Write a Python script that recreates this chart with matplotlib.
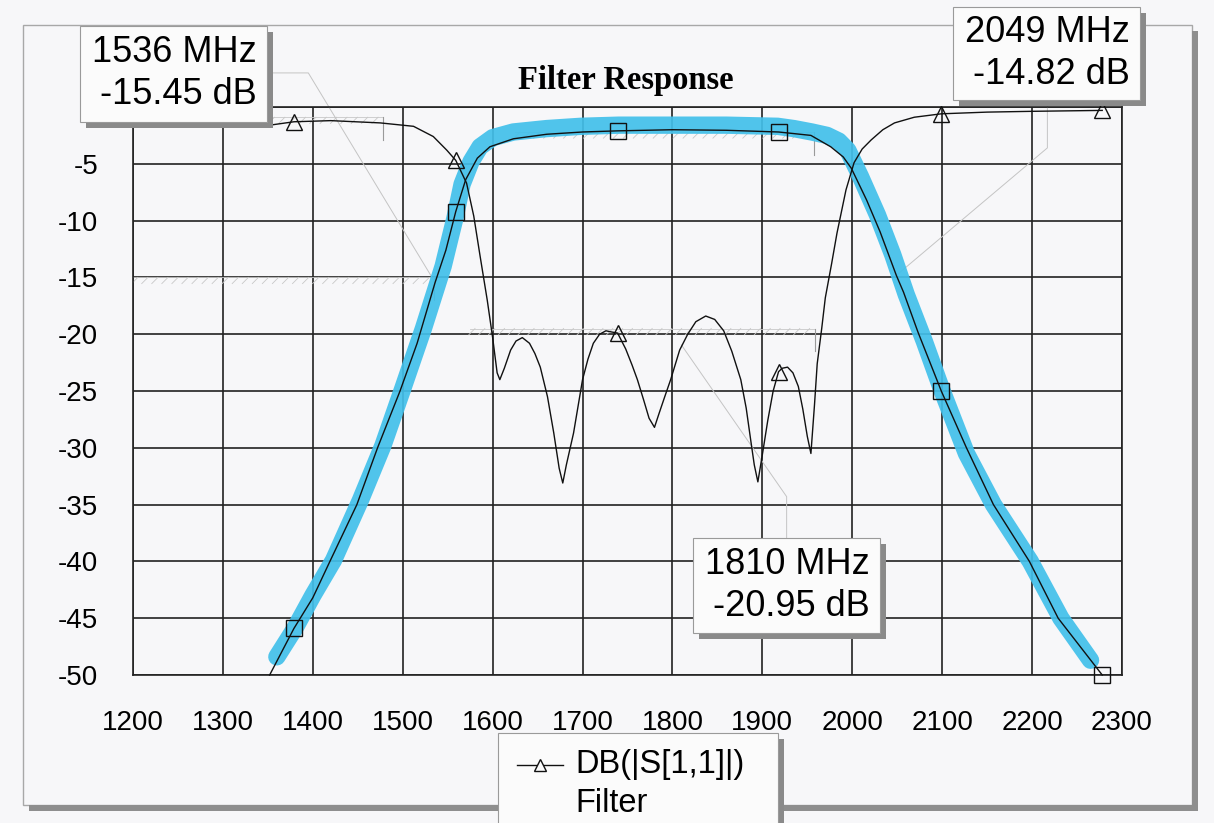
import numpy as np
import matplotlib
matplotlib.use("Agg")
import matplotlib.pyplot as plt
from matplotlib.patches import Rectangle
from matplotlib.lines import Line2D
import matplotlib.patheffects as pe

# ---------------- data ----------------
freq_ticks = [1200, 1300, 1400, 1500, 1600, 1700, 1800, 1900, 2000, 2100, 2200, 2300]
db_ticks = [0, -5, -10, -15, -20, -25, -30, -35, -40, -45, -50]

# S21 (thin black line with square markers)
s21_f = [1352, 1379, 1400, 1419, 1449, 1472, 1497, 1516, 1536, 1548, 1559, 1570, 1583,
         1597, 1623, 1660, 1700, 1739, 1800, 1860, 1918, 1954, 1976, 1990, 1999, 2016,
         2031, 2049, 2057, 2073, 2099, 2127, 2157, 2197, 2229, 2278]
s21_db = [-50, -45.9, -43.2, -40, -35, -30, -25, -20.8, -15.45, -12.6, -9.2, -6.4, -4.5,
          -3.5, -2.8, -2.4, -2.2, -2.1, -2.0, -2.05, -2.2, -2.5, -3.5, -4.4, -5.4, -8.2,
          -11, -14.82, -16.3, -19.8, -25, -30, -35, -40, -45, -50]

# S11 = DB(|S[1,1]|) (thin black line with triangle markers)
s11_f = [1352, 1379, 1420, 1475, 1512, 1534, 1549, 1559, 1571, 1579, 1586, 1594, 1600,
         1605, 1608, 1613, 1620, 1626, 1633, 1641, 1647, 1653, 1661, 1668, 1674, 1678,
         1682, 1690, 1700, 1706, 1712, 1719, 1726, 1732, 1739, 1748, 1755, 1761, 1768,
         1774, 1780, 1785, 1791, 1798, 1808, 1817, 1826, 1837, 1847, 1857, 1866, 1876,
         1882, 1887, 1891, 1895, 1900, 1906, 1912, 1918, 1922, 1928, 1934, 1940, 1945,
         1950, 1954, 1958, 1961, 1966, 1970, 1977, 1983, 1993, 2002, 2011, 2021, 2034,
         2047, 2069, 2099, 2150, 2200, 2278]
s11_db = [-1.6, -1.3, -1.2, -1.4, -1.7, -2.6, -3.8, -4.7, -6.7, -9.6, -13.1, -17, -20.3,
          -23.4, -24.0, -23.0, -21.4, -20.6, -20.3, -20.8, -21.7, -22.9, -25.5, -28.7,
          -31.8, -33.1, -31.5, -28.7, -24.0, -22.2, -20.8, -20.0, -19.7, -19.8, -19.9,
          -21.3, -22.7, -24.0, -25.8, -27.4, -28.2, -27.0, -25.6, -24.0, -21.4, -20.0,
          -18.9, -18.4, -18.7, -19.7, -21.5, -24.0, -26.5, -29.3, -31.5, -33.0, -30.6,
          -27.6, -25.0, -23.3, -23.0, -22.9, -23.4, -24.6, -26.6, -29.0, -30.5, -26.2,
          -22.6, -19.5, -16.8, -13.8, -11.1, -7.3, -4.9, -3.7, -2.9, -2.0, -1.4, -0.9,
          -0.6, -0.45, -0.38, -0.3]

marker_f = [1379, 1559, 1739, 1918, 2099, 2278]

# hand-drawn highlighter stroke over S21
hl_f = [1360, 1380, 1400, 1423, 1453, 1478, 1500, 1523, 1545, 1558, 1566, 1576, 1586,
        1600, 1623, 1660, 1698, 1740, 1797, 1860, 1917, 1935, 1955, 1972, 1985, 1995,
        2009, 2028, 2045, 2060, 2080, 2100, 2127, 2157, 2198, 2232, 2265]
hl_db = [-48.4, -45.9, -43, -39.9, -34.6, -29.8, -24.8, -19.5, -14.0, -9.8, -6.8, -4.8,
         -3.5, -2.7, -2.2, -1.9, -1.7, -1.6, -1.6, -1.6, -1.7, -1.9, -2.2, -2.5, -3.0,
         -3.8, -6.1, -9.5, -13.0, -16.5, -20.6, -25, -30.5, -35, -40, -45, -48.7]

# optimisation goals (faint hatched lines) : (f_start, f_end, level)
goals = [(1352, 1478, -0.9), (1200, 1535, -15.0), (1575, 1958, -19.5), (1625, 1957, -2.2)]

# marker read-outs: (freq, dB)
readouts = [(1536, -15.45), (2049, -14.82), (1810, -20.95)]
legend_label = "DB(|S[1,1]|)"
legend_label2 = "Filter"
title = "Filter Response"

# ---------------- figure ----------------
W, H = 1214, 823
fig = plt.figure(figsize=(W / 100, H / 100), dpi=100)
bg = "#f7f7f9"
fig.patch.set_facecolor(bg)
SANS = ["Liberation Sans", "DejaVu Sans"]


def prect(x0, y0, x1, y1, **kw):
    return Rectangle((x0 / W, 1 - y1 / H), (x1 - x0) / W, (y1 - y0) / H,
                     transform=fig.transFigure, **kw)


def fpt(x, y):
    return x / W, 1 - y / H


ax = fig.add_axes([133 / W, 1 - 675 / H, (1122 - 133) / W, (675 - 107) / H])
ax.set_facecolor(bg)
ax.set_xlim(1200, 2300)
ax.set_ylim(-50, 0)
ax.set_xticks(freq_ticks)
ax.set_xticklabels([str(v) for v in freq_ticks])
ax.set_yticks(db_ticks)
ax.set_yticklabels([str(v) for v in db_ticks])
ax.tick_params(length=0, labelsize=20, pad=25)
for lab in ax.get_xticklabels() + ax.get_yticklabels():
    lab.set_family(SANS)
ax.grid(True, color="#222222", lw=1.2, zorder=1)
ax.set_axisbelow(True)
for s in ax.spines.values():
    s.set_color("#222222")
    s.set_linewidth(1.2)

# faint goal lines with hatch ticks
for f0, f1, lvl in goals:
    ax.plot([f0, f1], [lvl, lvl], color="#c8c8c8", lw=0.6, zorder=1.5,
            path_effects=[pe.withTickedStroke(angle=-135, spacing=7, length=0.9)])
    ax.plot([f1, f1], [lvl, lvl - 2], color="#9a9a9a", lw=0.8, zorder=1.5)

# highlighter
ax.plot(hl_f, hl_db, color="#42c0ea", lw=12.5, solid_capstyle="round",
        solid_joinstyle="round", alpha=0.92, zorder=2)

# curves
idx21 = [s21_f.index(f) for f in marker_f]
idx11 = [s11_f.index(f) for f in marker_f]
ax.plot(s21_f, s21_db, color="#111111", lw=1.0, marker="s", markersize=12,
        mfc="none", mec="#111111", mew=1.0, markevery=idx21, zorder=3, clip_on=False)
ax.plot(s11_f, s11_db, color="#111111", lw=1.0, marker="^", markersize=12,
        mfc="none", mec="#111111", mew=1.0, markevery=idx11, zorder=3, clip_on=False)

# marker leader lines (faint)
leaders = [([1536, 1395, 1350], [-15.45, 3.0, 3.0]),
           ([2049, 2217, 2217], [-14.82, -3.6, 0.5]),
           ([1810, 1927, 1927], [-20.95, -34.3, -38.0])]
for lx, ly in leaders:
    ax.plot(lx, ly, color="#c4c4c4", lw=0.7, zorder=1.6, clip_on=False)

# ---------------- outer frame ----------------
fig.add_artist(prect(23, 25, 1192, 805, fill=False, edgecolor="#a8a8a8", lw=1.0, zorder=0.5))
fig.add_artist(prect(1192, 31, 1198, 811, facecolor="#8e8e8e", edgecolor="none", zorder=0.5))
fig.add_artist(prect(29, 805, 1198, 811, facecolor="#8e8e8e", edgecolor="none", zorder=0.5))

# ---------------- title ----------------
fig.text(*fpt(626, 80), title, family=["Liberation Serif", "DejaVu Serif"],
         weight="bold", fontsize=23.5, ha="center", va="center", zorder=6)

# ---------------- read-out boxes ----------------
boxes = [(80, 26, 267, 122), (953, 7, 1140, 100), (693, 538, 880, 633)]
for (x0, y0, x1, y1), (f, v) in zip(boxes, readouts):
    fig.add_artist(prect(x0 + 6, y0 + 6, x1 + 6, y1 + 6, facecolor="#8a8a8a",
                         edgecolor="none", zorder=9))
    fig.add_artist(prect(x0, y0, x1, y1, facecolor="#fbfbfb", edgecolor="#9a9a9a",
                         lw=0.8, zorder=10))
    cy = (y0 + y1) / 2
    fig.text(*fpt(x1 - 10, cy - 21), f"{f} MHz", family=SANS, fontsize=26,
             ha="right", va="center", zorder=11)
    fig.text(*fpt(x1 - 10, cy + 21), f"{v:.2f} dB", family=SANS, fontsize=26,
             ha="right", va="center", zorder=11)

# ---------------- legend box ----------------
fig.add_artist(prect(504, 739, 784, 830, facecolor="#8a8a8a", edgecolor="none", zorder=9))
fig.add_artist(prect(498, 733, 778, 830, facecolor="#fbfbfb", edgecolor="#9a9a9a",
                     lw=0.8, zorder=10))
(lx0, ly0), (lx1, _) = fpt(517, 765), fpt(563, 765)
fig.add_artist(Line2D([lx0, lx1], [ly0, ly0], transform=fig.transFigure, color="#111111",
                      lw=1.0, zorder=11))
fig.add_artist(Line2D([(lx0 + lx1) / 2], [ly0], transform=fig.transFigure, marker="^",
                      markersize=9, mfc="#fbfbfb", mec="#111111", mew=1.0, lw=0, zorder=12))
fig.text(*fpt(575, 765), legend_label, family=SANS, fontsize=23.5, ha="left",
         va="center", zorder=11)
fig.text(*fpt(575, 803), legend_label2, family=SANS, fontsize=23.5, ha="left",
         va="center", zorder=11)

fig.savefig("out.png", dpi=100, facecolor=fig.get_facecolor())
